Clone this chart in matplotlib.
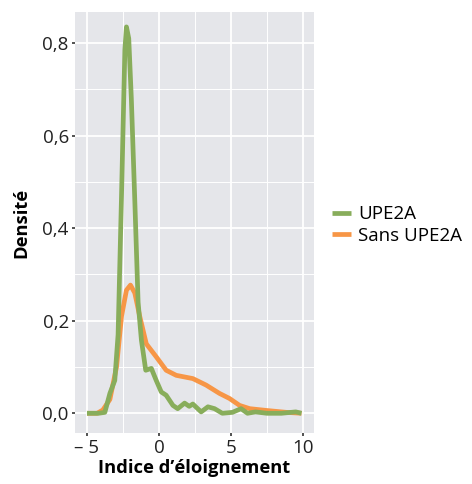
import matplotlib
matplotlib.use("Agg")
import matplotlib.pyplot as plt

plt.rcParams['font.family'] = ['Open Sans', 'DejaVu Sans']

# green curve: UPE2A
upe_x = [-5, -4.2, -3.76, -3.41, -3.07, -2.84, -2.61, -2.37, -2.26, -2.1, -1.92, -1.68, -1.45,
         -1.22, -0.92, -0.53, -0.19, 0.16, 0.5, 0.97, 1.3, 1.78, 2.1, 2.35, 2.93, 3.4, 3.86,
         4.4, 5.1, 5.7, 6.15, 6.7, 7.5, 8.5, 9.5, 9.9]
upe_y = [0, 0, 0.002, 0.043, 0.071, 0.17, 0.46, 0.785, 0.835, 0.81, 0.68, 0.46, 0.24,
         0.158, 0.093, 0.097, 0.071, 0.046, 0.039, 0.017, 0.01, 0.022, 0.015, 0.02, 0.003, 0.014, 0.01,
         0.0, 0.002, 0.01, 0.0, 0.003, 0.0, 0.0, 0.003, 0.0]

# orange curve: Sans UPE2A
sans_x = [-5, -4.3, -3.9, -3.41, -2.95, -2.6, -2.26, -1.98, -1.68, -1.34, -0.88, -0.19, 0.5,
          1.2, 2.35, 3.27, 4.2, 4.9, 5.6, 6.3, 7.5, 8.85, 9.9]
sans_y = [0, 0, 0.007, 0.03, 0.1, 0.21, 0.266, 0.277, 0.26, 0.21, 0.15, 0.122, 0.093,
          0.082, 0.075, 0.061, 0.043, 0.032, 0.017, 0.01, 0.006, 0.002, 0.0]

x_ticks = [-5, 0, 5, 10]
x_labels = ['\u2013 5', '0', '5', '10']
y_ticks = [0.0, 0.2, 0.4, 0.6, 0.8]
y_labels = ['0,0', '0,2', '0,4', '0,6', '0,8']

green = '#88ad5b'
orange = '#f79646'

fig = plt.figure(figsize=(4.72, 4.84), dpi=100)
ax = fig.add_axes([0.159, 0.105, 0.506, 0.87])
ax.set_facecolor('#e5e6ea')

ax.plot(sans_x, sans_y, color=orange, lw=3.4, solid_capstyle='butt', label='Sans UPE2A', zorder=3)
ax.plot(upe_x, upe_y, color=green, lw=3.4, solid_capstyle='butt', label='UPE2A', zorder=4)

ax.set_xlim(-5.83, 10.76)
ax.set_ylim(-0.043, 0.867)
ax.set_xticks(x_ticks)
ax.set_xticklabels(x_labels)
ax.set_yticks(y_ticks)
ax.set_yticklabels(y_labels)
ax.set_xticks([-2.5, 2.5, 7.5], minor=True)
ax.set_yticks([0.1, 0.3, 0.5, 0.7], minor=True)
ax.grid(which='major', color='white', lw=1.3)
ax.grid(which='minor', color='white', lw=0.7)
ax.set_axisbelow(True)
for s in ax.spines.values():
    s.set_visible(False)
ax.tick_params(which='major', length=2.5, width=1.2, color='#333333', labelsize=13.5,
               labelcolor='#222222', pad=2)
ax.tick_params(which='minor', length=0)

ax.set_xlabel('Indice d\u2019éloignement', fontsize=13.2, fontweight='bold', labelpad=1)
ax.set_ylabel('Densité', fontsize=13.2, fontweight='bold', labelpad=9)

h, l = ax.get_legend_handles_labels()
fig.legend(h[::-1], l[::-1], loc='center left', bbox_to_anchor=(0.703, 0.535), frameon=False,
           fontsize=13.5, handlelength=1.0, handletextpad=0.4, labelspacing=0.2,
           borderpad=0, borderaxespad=0)

fig.savefig('out.png', dpi=100)
